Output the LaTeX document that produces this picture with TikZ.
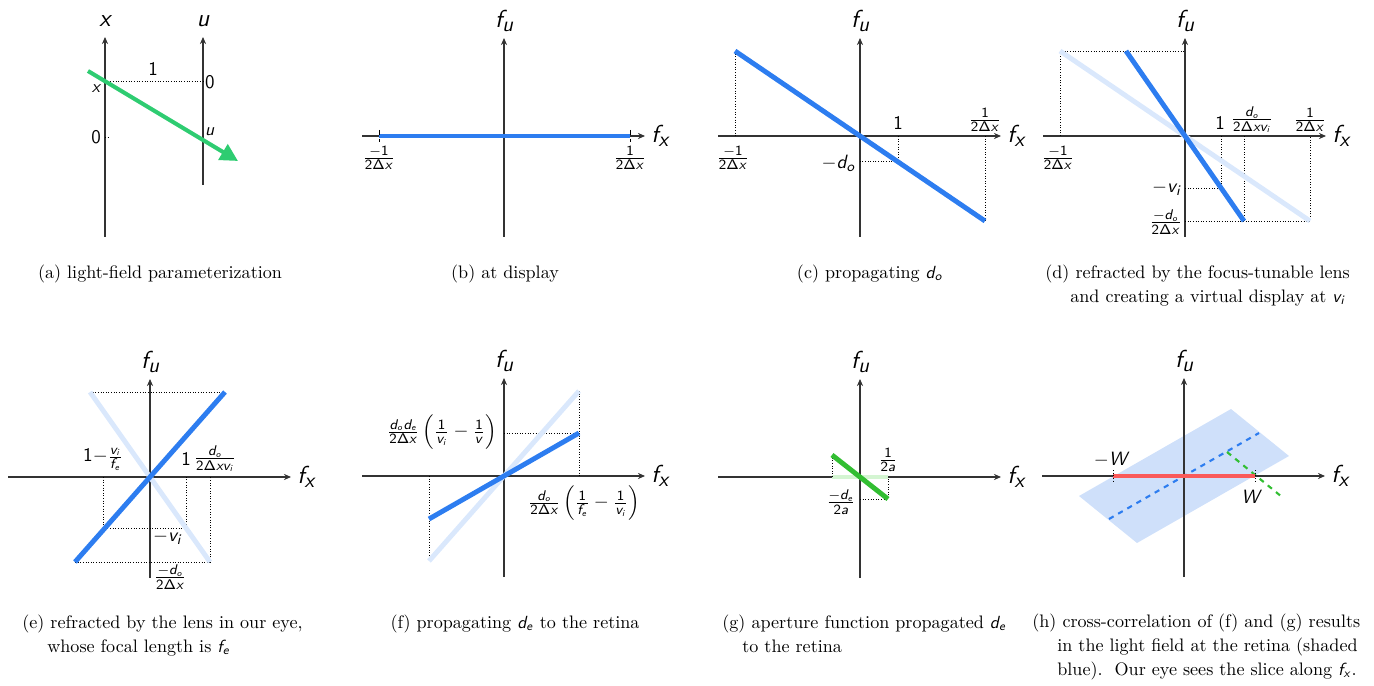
\documentclass[tikz,border=0pt]{standalone}
\usepackage{amsmath}
\usetikzlibrary{arrows.meta}
\DeclareMathAlphabet{\mathsfsl}{OT1}{cmss}{m}{sl}
\newcommand{\sv}[1]{\mathsfsl{#1}}
\newcommand{\sn}[1]{\mathsf{#1}}
\newcommand{\dx}{\sn{2\Delta}\sv{x}}
\newcommand{\axl}[2]{{\fontsize{14}{16}\selectfont\sffamily\slshape #1\raisebox{-0.35ex}{\fontsize{12}{12}\selectfont #2}}}
\definecolor{lfblue}{RGB}{45,125,240}
\definecolor{lfpale}{RGB}{218,232,252}
\definecolor{lfgreen}{RGB}{50,190,50}
\definecolor{lfpalegreen}{RGB}{212,245,210}
\definecolor{lfteal}{RGB}{46,204,113}
\definecolor{lfred}{RGB}{250,90,90}
\definecolor{lfshade}{RGB}{207,224,250}
\tikzset{
  axis/.style={draw=black!80, line width=0.6pt, -{Stealth[length=4pt,width=3.5pt]}},
  ray/.style={line width=2.8pt, lfblue},
  ghost/.style={line width=2.8pt, lfpale},
  guide/.style={densely dotted, line width=0.5pt},
  lbl/.style={font=\fontsize{11}{13}\selectfont\sffamily, inner sep=1pt},
  captext/.style={font=\fontsize{10.3}{13.6}\selectfont, inner sep=0pt, align=left},
}
\newcommand{\axes}{%
  \draw[axis] (0,101) -- (0,-98) node[above] (fu) {\axl{f}{u}};
  \draw[axis] (-142,0) -- (141,0) node[right] (fx) {\axl{f}{x}};}

\begin{document}
\begin{tikzpicture}[x=0.02cm, y=-0.02cm]
  \useasboundingbox (0,0) rectangle (1374,686);
  % (a) two-plane parameterization
  \draw[axis] (105,237) -- (105,37) node[above] (a-x) {\axl{x}{}};
  \draw[axis] (203,185) -- (203,37) node[above] (a-u) {\axl{u}{}};
  \draw[guide] (105,81) -- (203,81);
  \draw[guide] (105,137) -- (110,137);
  \draw[line width=2.3pt, lfteal, -{Triangle[length=10pt,width=10pt]}] (88,71) -- (238,161);
  \node[lbl] (a-one) at (153,69) {1};
  \node[lbl, right] (a-u0) at (203,82) {0};
  \node[lbl, font=\sffamily\slshape] (a-xv) at (96,89) {x};
  \node[lbl] (a-x0) at (96,137) {0};
  \node[lbl, right, font=\sffamily\slshape] (a-uv) at (203,132) {u};
  \node[captext, anchor=base] (cap-a) at (160,278) {(a) light-field parameterization};

  % (b) at display
  \begin{scope}[shift={(504,136)}]
    \axes
    \draw[ray] (-125,0) -- (126,0);
    \foreach \x in {-125,126} \draw[guide, densely dashed] (\x,-6) -- (\x,6);
    \node[lbl] (b-lo) at (-125,22) {$\frac{-\sn{1}}{\dx}$};
    \node[lbl] (b-hi) at (126,22) {$\frac{\sn{1}}{\dx}$};
  \end{scope}
  \node[captext, anchor=base] (cap-b) at (505,278) {(b) at display};

  % (c) propagating d_o
  \begin{scope}[shift={(860,136)}]
    \axes
    \draw[guide] (-125,-85) -- (-125,0);
    \draw[guide] (125,0) -- (125,85);
    \draw[guide] (38,0) -- (38,25.8) -- (0,25.8);
    \draw[ray] (-125,-85) -- (125,85);
    \node[lbl] (c-one) at (38,-13) {1};
    \node[lbl] (c-hi) at (125,-16) {$\frac{\sn{1}}{\dx}$};
    \node[lbl] (c-lo) at (-127,22) {$\frac{-\sn{1}}{\dx}$};
    \node[lbl, left] (c-do) at (-2,27) {$-\sv{d}_{\sv{o}}$};
  \end{scope}
  \node[captext, anchor=base] (cap-c) at (870,278) {(c) propagating $\sv{d}_{\sv{o}}$};

  % (d) focus-tunable lens
  \begin{scope}[shift={(1185,136)}]
    \axes
    \draw[guide] (-125,0) -- (-125,-85) -- (0,-85);
    \draw[guide] (0,85) -- (125,85) -- (125,0);
    \draw[guide] (59,0) -- (59,85);
    \draw[guide] (36,0) -- (36,52) -- (0,52);
    \draw[ghost] (-125,-85) -- (125,85);
    \draw[ray] (-59,-85) -- (59,85);
    \node[lbl] (d-one) at (35,-13) {1};
    \node[lbl] (d-vi) at (67,-16) {$\frac{\sv{d}_{\sv{o}}}{\dx\sv{v}_{\sv{i}}}$};
    \node[lbl] (d-hi) at (125,-16) {$\frac{\sn{1}}{\dx}$};
    \node[lbl] (d-lo) at (-127,22) {$\frac{-\sn{1}}{\dx}$};
    \node[lbl, left] (d-mvi) at (-1,52) {$-\sv{v}_{\sv{i}}$};
    \node[lbl, left] (d-mdo) at (-1,86) {$\frac{-\sv{d}_{\sv{o}}}{\dx}$};
  \end{scope}
  \node[captext, anchor=base west] (cap-d) at (1045,302)
    {(d) refracted by the focus-tunable lens\\\hspace*{0.5cm}and creating a virtual display at $\sv{v}_{\sv{i}}$};

  % (e) lens of the eye
  \begin{scope}[shift={(150,477)}]
    \axes
    \draw[guide] (-60,-85) -- (75,-85);
    \draw[guide] (-75,85) -- (60,85) -- (60,0);
    \draw[guide] (-47,0) -- (-47,51) -- (36,51) -- (36,0);
    \draw[ghost] (-60,-85) -- (60,85);
    \draw[ray] (-75,85) -- (75,-85);
    \node[lbl] (e-fe) at (-47,-18) {$\sn{1}{-}\frac{\sv{v}_{\sv{i}}}{\sv{f}_{\sv{e}}}$};
    \node[lbl] (e-one) at (36,-18) {1};
    \node[lbl] (e-vi) at (65,-18) {$\frac{\sv{d}_{\sv{o}}}{\dx\sv{v}_{\sv{i}}}$};
    \node[lbl, right] (e-mvi) at (1,60) {$-\sv{v}_{\sv{i}}$};
    \node[lbl, right] (e-mdo) at (2,100) {$\frac{-\sv{d}_{\sv{o}}}{\dx}$};
  \end{scope}
  \node[captext, anchor=base west] (cap-e) at (22,652)
    {(e) refracted by the lens in our eye,\\\hspace*{0.5cm}whose focal length is $\sv{f}_{\sv{e}}$};

  % (f) propagating d_e
  \begin{scope}[shift={(504,476)}]
    \axes
    \draw[guide] (75,-85) -- (75,0);
    \draw[guide] (-75,0) -- (-75,85);
    \draw[guide] (0,-43) -- (75,-43);
    \draw[ghost] (-75,85) -- (75,-85);
    \draw[ray] (-75,43) -- (75,-43);
    \node[lbl, left] (f-up) at (-5,-44)
      {$\frac{\sv{d}_{\sv{o}}\sv{d}_{\sv{e}}}{\dx}\left(\frac{\sn{1}}{\sv{v}_{\sv{i}}}-\frac{\sn{1}}{\sv{v}}\right)$};
    \node[lbl] (f-dn) at (80,27)
      {$\frac{\sv{d}_{\sv{o}}}{\dx}\left(\frac{\sn{1}}{\sv{f}_{\sv{e}}}-\frac{\sn{1}}{\sv{v}_{\sv{i}}}\right)$};
  \end{scope}
  \node[captext, anchor=base] (cap-f) at (515,628) {(f) propagating $\sv{d}_{\sv{e}}$ to the retina};

  % (g) aperture
  \begin{scope}[shift={(860,477)}]
    \axes
    \draw[line width=2.8pt, lfpalegreen] (-28,0) -- (28,0);
    \draw[guide] (-28,-22) -- (-28,0);
    \draw[guide] (0,22) -- (28,22) -- (28,0);
    \draw[line width=2.8pt, lfgreen] (-28,-22) -- (28,22);
    \node[lbl] (g-hi) at (28,-17) {$\frac{\sn{1}}{\sn{2}\sv{a}}$};
    \node[lbl] (g-lo) at (-19,25) {$\frac{-\sv{d}_{\sv{e}}}{\sn{2}\sv{a}}$};
  \end{scope}
  \node[captext, anchor=base west] (cap-g) at (722,652)
    {(g) aperture function propagated $\sv{d}_{\sv{e}}$\\\hspace*{0.4cm}to the retina};

  % (h) retinal light field
  \begin{scope}[shift={(1184,476)}]
    \fill[lfshade] (47,-67) -- (105,-20) -- (-47,67) -- (-105,20) -- cycle;
    \axes
    \draw[lfblue, line width=1.2pt, dashed] (-75,43) -- (75,-43);
    \draw[lfgreen, line width=1.2pt, dashed] (43,-24) -- (98,21);
    \draw[lfred, line width=2.8pt] (-71,0) -- (71,0);
    \foreach \x in {-71,71} \draw[guide] (\x,-6) -- (\x,6);
    \node[lbl] (h-lo) at (-72,-16) {$-\sv{W}$};
    \node[lbl] (h-hi) at (68,21) {$\sv{W}$};
  \end{scope}
  \node[captext, anchor=base west] (cap-h) at (1032,675)
    {(h) cross-correlation of (f) and (g) results\\\hspace*{0.5cm}in the light field at the retina (shaded\\\hspace*{0.5cm}blue).\ \ Our eye sees the slice along $\sv{f}_{\sv{x}}$.};
\end{tikzpicture}
\end{document}
